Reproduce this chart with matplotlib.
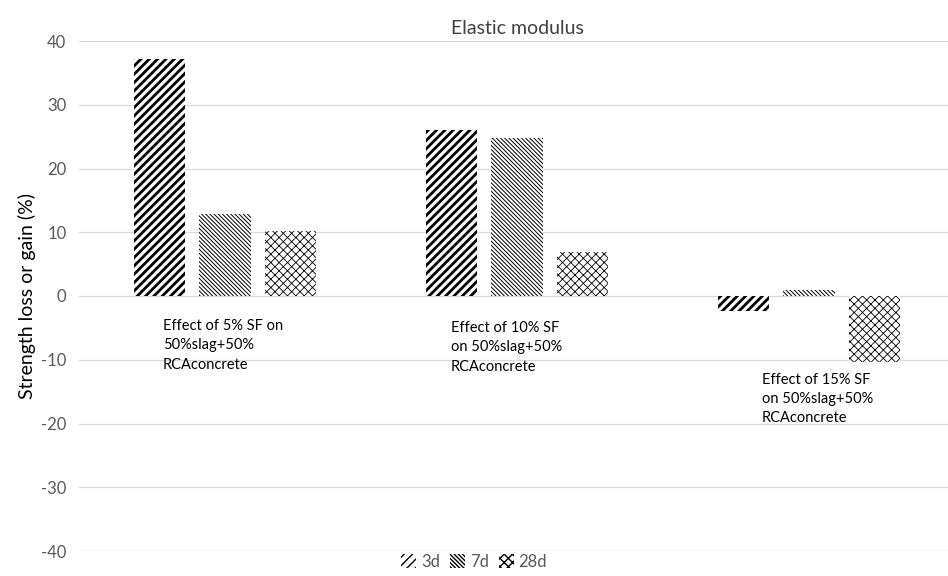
import numpy as np
import matplotlib
matplotlib.use("Agg")
import matplotlib.pyplot as plt
from matplotlib.patches import Patch

plt.rcParams['font.family'] = ['Lato', 'DejaVu Sans']
plt.rcParams['axes.unicode_minus'] = False

# data
groups = ["5% SF", "10% SF", "15% SF"]
series = ["3d", "7d", "28d"]
values_3d = [37.2, 26.0, -2.3]
values_7d = [12.9, 24.8, 0.9]
values_28d = [10.2, 6.9, -10.3]
group_notes = [
    "Effect of 5% SF on\n50%slag+50%\nRCAconcrete",
    "Effect of 10% SF\non 50%slag+50%\nRCAconcrete",
    "Effect of 15% SF\non 50%slag+50%\nRCAconcrete",
]
note_pos = [(-0.212, -3.6), (-0.226, -3.9), (-0.161, -12.0)]
yticks = [-40, -30, -20, -10, 0, 10, 20, 30, 40]

hatches = ["////", "\\\\\\\\\\\\\\\\", "xxxx"]
hatch_lw = [2.0, 0.7, 0.6]

fig = plt.figure(figsize=(9.48, 5.76), dpi=100)
ax = fig.add_axes([79 / 948, 25 / 576, 876 / 948, 510 / 576])

x = np.arange(len(groups))
width = 0.175
step = 0.223
for i, vals in enumerate([values_3d, values_7d, values_28d]):
    bars = ax.bar(x + (i - 1) * step, vals, width, color="white",
                  edgecolor="black", linewidth=0, hatch=hatches[i],
                  label=series[i], zorder=3)
    for b in bars:
        try:
            b.set_hatch_linewidth(hatch_lw[i])
        except AttributeError:
            pass

for i, note in enumerate(group_notes):
    dx, yy = note_pos[i]
    ax.text(x[i] + dx, yy, note, ha="left", va="top", fontsize=10.5,
            color="black", linespacing=1.5)

ax.set_xlim(-0.5, 2.5)
ax.set_ylim(-40, 40)
ax.set_yticks(yticks)
ax.set_xticks([])
ax.yaxis.grid(True, color="#d9d9d9", linewidth=0.9, zorder=0)
ax.tick_params(axis="y", length=0, labelsize=12, labelcolor="#595959", pad=9)
for s in ax.spines.values():
    s.set_visible(False)
ax.set_ylabel("Strength loss or gain (%)", fontsize=14, labelpad=4)
ax.set_title("Elastic modulus", fontsize=14, color="#404040", pad=5)

handles = [Patch(facecolor="white", edgecolor="black", linewidth=0,
                 hatch=hatches[i], label=series[i]) for i in range(3)]
fig.legend(handles=handles, loc="lower center", bbox_to_anchor=(0.5, -0.015),
           ncol=3, frameon=False, fontsize=12, handlelength=0.9,
           handleheight=0.9, columnspacing=0.6, handletextpad=0.3,
           labelcolor="#595959")

fig.savefig("out.png", dpi=100)
